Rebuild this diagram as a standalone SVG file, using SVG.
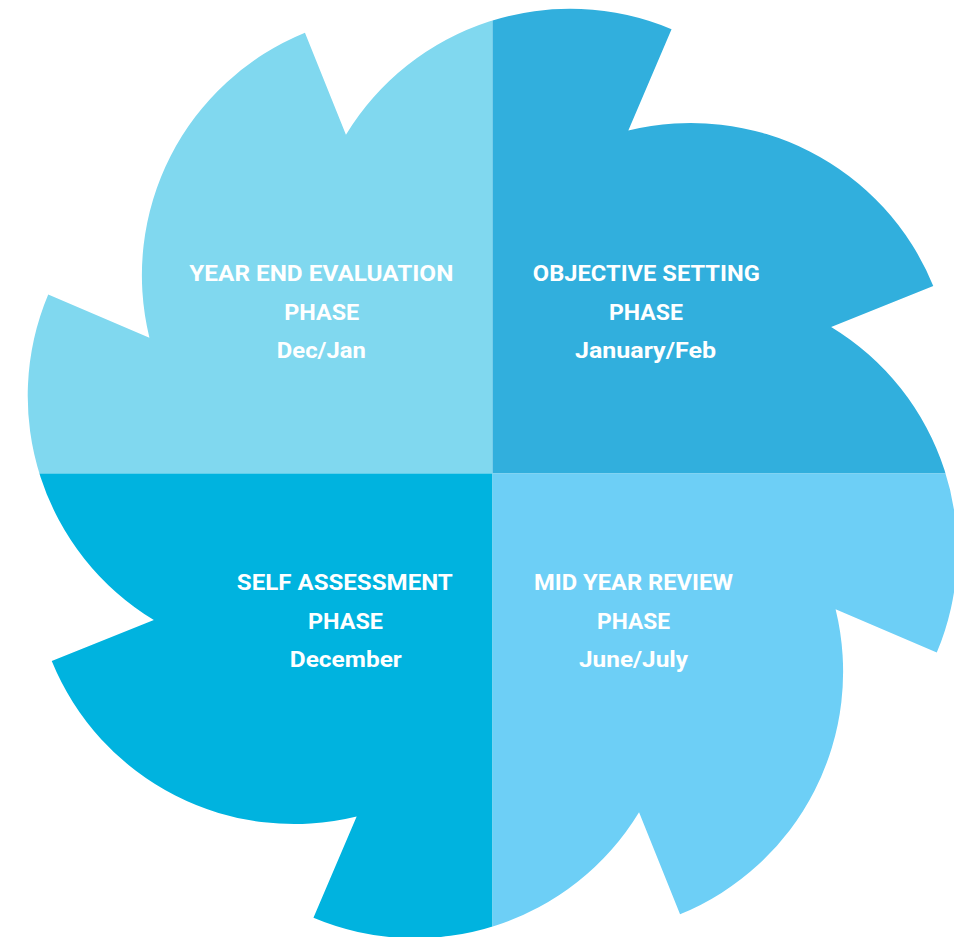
<svg xmlns="http://www.w3.org/2000/svg" width="954" height="937" viewBox="0 0 954 937">
<style>
.lbl{font-family:"Roboto","Liberation Sans",sans-serif;font-weight:bold;font-size:21.5px;fill:#ffffff;text-anchor:middle}
</style>
<defs>
<clipPath id="pin">
<path d="M 345.95 134.84 A 262 262 0 0 1 671.55 29.22 L 628.34 130.40 A 262 262 0 0 1 933.26 285.95 L 831.16 326.95 A 262 262 0 0 1 936.78 652.55 L 835.60 609.34 A 262 262 0 0 1 680.05 914.26 L 639.05 812.16 A 262 262 0 0 1 313.45 917.78 L 356.66 816.60 A 262 262 0 0 1 51.74 661.05 L 153.84 620.05 A 262 262 0 0 1 48.22 294.45 L 149.40 337.66 A 262 262 0 0 1 304.95 32.74 Z"/>
</clipPath>
</defs>
<rect width="954" height="937" fill="#ffffff"/>
<g clip-path="url(#pin)">
<g id="year-end">
<rect x="0" y="0" width="492.5" height="473.5" fill="#80D8EF"/>
</g>
<g id="objective">
<rect x="492.5" y="0" width="461.5" height="473.5" fill="#31AFDD"/>
</g>
<g id="self-assessment">
<rect x="0" y="473.5" width="492.5" height="463.5" fill="#00B3DF"/>
</g>
<g id="mid-year">
<rect x="492.5" y="473.5" width="461.5" height="463.5" fill="#6DCFF6"/>
</g>
</g>
<g id="labels">
<text class="lbl" x="321.3" y="281" textLength="264" lengthAdjust="spacingAndGlyphs">YEAR END EVALUATION</text>
<text class="lbl" x="321.7" y="319.5" textLength="75" lengthAdjust="spacingAndGlyphs">PHASE</text>
<text class="lbl" x="321.3" y="357.5" textLength="89" lengthAdjust="spacingAndGlyphs">Dec/Jan</text>
<text class="lbl" x="646.3" y="281" textLength="227" lengthAdjust="spacingAndGlyphs">OBJECTIVE SETTING</text>
<text class="lbl" x="646" y="319.5" textLength="74" lengthAdjust="spacingAndGlyphs">PHASE</text>
<text class="lbl" x="645.5" y="357.5" textLength="141" lengthAdjust="spacingAndGlyphs">January/Feb</text>
<text class="lbl" x="344.8" y="590" textLength="216" lengthAdjust="spacingAndGlyphs">SELF ASSESSMENT</text>
<text class="lbl" x="345.5" y="628.5" textLength="75" lengthAdjust="spacingAndGlyphs">PHASE</text>
<text class="lbl" x="345.8" y="667" textLength="112" lengthAdjust="spacingAndGlyphs">December</text>
<text class="lbl" x="633.5" y="590" textLength="199" lengthAdjust="spacingAndGlyphs">MID YEAR REVIEW</text>
<text class="lbl" x="633.5" y="628.5" textLength="73" lengthAdjust="spacingAndGlyphs">PHASE</text>
<text class="lbl" x="633.5" y="667" textLength="109" lengthAdjust="spacingAndGlyphs">June/July</text>
</g>
</svg>
